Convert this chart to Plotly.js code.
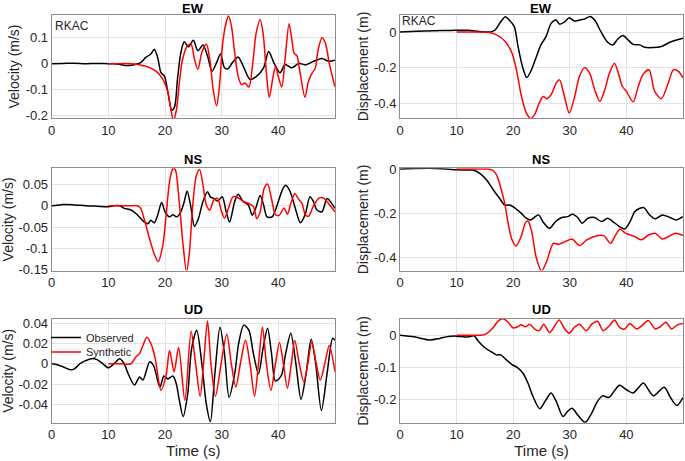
<!DOCTYPE html>
<html>
<head>
<meta charset="utf-8">
<script src="https://cdn.plot.ly/plotly-3.0.1.min.js"></script>
<style>html,body{margin:0;padding:0;background:#fff;}#chart{width:685px;height:461px;}</style>
</head>
<body>
<div id="chart"></div>
<script>
// ---------------- DATA ----------------
// EW velocity (m/s)
const ewVelObsT = [0,2,4,6,8,10,11,12,13,14,14.7,15.7,16.6,17.5,18.1,18.7,19.3,19.9,20.5,21.2,21.7,22.2,22.8,23.4,24.1,25.0,25.8,26.7,27.5,28.3,29.1,29.8,30.5,31.1,32.0,32.9,33.8,35.0,36.2,37.4,38.3,39.2,40.3,41.2,42.4,43.6,44.8,46.0,47.7,48.9,50];
const ewVelObs  = [0,0.001,0.002,0,0.001,0,0,-0.003,-0.007,-0.006,-0.003,0.004,0.024,0.037,0.056,0.024,-0.035,-0.048,-0.11,-0.18,-0.166,-0.06,0.043,0.085,0.065,0.09,0.05,0.072,0.03,-0.029,0.004,0.037,-0.016,-0.02,0.007,0.026,-0.009,-0.061,-0.048,-0.016,0.047,0.004,-0.035,-0.003,-0.016,0.001,-0.005,0.007,0.02,0.009,0.013];
const ewVelSynT = [10,12,14,15.2,16.9,18.4,19.6,20.5,21.1,21.5,22.0,22.6,23.1,24.0,24.6,25.2,25.8,26.5,27.3,27.9,28.5,29.1,29.6,30.2,30.8,31.2,31.7,32.3,32.9,33.5,34.1,34.8,35.5,36.1,36.8,37.3,37.9,38.4,39.0,39.5,40.0,40.6,41.2,41.9,42.4,42.8,43.3,43.8,44.7,45.3,46.0,46.5,47.0,47.7,48.3,49.0,50];
const ewVelSyn  = [0,0,0,-0.003,-0.012,-0.029,-0.06,-0.11,-0.186,-0.22,-0.18,-0.06,0.017,0.07,0.075,0.017,-0.022,0.043,0.076,0.017,-0.1,-0.163,-0.088,0.082,0.16,0.184,0.148,0.043,-0.048,-0.081,-0.075,-0.09,0.004,0.12,0.17,0.12,-0.035,-0.13,-0.06,-0.01,-0.05,-0.09,0.02,0.154,0.09,0.04,0.03,-0.03,-0.13,-0.07,-0.035,-0.02,0.05,0.1,0.08,0.0,-0.09];
// EW displacement (m)
const ewDisObsT = [0,3,6,9,12,14,16,16.8,17.6,18.6,19.3,20.2,20.8,21.7,22.4,23.1,24.0,24.9,25.8,26.7,27.6,28.2,29.1,29.9,30.8,31.7,32.6,33.6,34.4,35.5,36.7,37.6,38.5,39.4,40.3,41.2,42.4,43.2,44.7,46.2,47.7,50];
const ewDisObs  = [0,0.004,0.007,0.009,0.01,0.003,0,0.011,0.048,0.085,0.067,0.03,-0.072,-0.2,-0.254,-0.22,-0.146,-0.072,-0.026,0.048,0.067,0.044,0.057,0.08,0.061,0.067,0.072,0.087,0.067,0.002,-0.057,-0.072,-0.039,-0.02,-0.044,-0.069,-0.072,-0.085,-0.087,-0.081,-0.057,-0.035];
const ewDisSynT = [10,13,15.9,17.3,18.5,19.7,20.5,21.4,22.3,23.1,23.8,24.6,25.3,25.9,26.7,27.6,28.2,28.9,29.9,30.8,31.7,32.6,33.5,34.4,35.3,36.1,37.0,37.9,38.5,39.3,40.0,41.2,42.1,42.9,44.0,45.0,46.2,47.4,48.3,49.2,50];
const ewDisSyn  = [0,0,-0.004,-0.02,-0.05,-0.11,-0.2,-0.35,-0.45,-0.483,-0.46,-0.396,-0.36,-0.372,-0.35,-0.285,-0.267,-0.34,-0.452,-0.369,-0.248,-0.2,-0.23,-0.322,-0.387,-0.33,-0.23,-0.174,-0.22,-0.304,-0.331,-0.39,-0.304,-0.239,-0.211,-0.331,-0.372,-0.285,-0.211,-0.22,-0.257];
// NS velocity (m/s)
const nsVelObsT = [0,1,2,4,6,8,10,11,12,12.8,14.0,15.1,16.3,17.0,17.5,18.1,18.7,19.4,20.0,20.8,21.4,22.1,22.8,23.4,23.9,24.5,25.2,25.9,26.7,27.5,28.0,28.6,29.3,30.1,30.8,31.4,32.3,32.9,33.8,34.7,35.4,36.0,36.8,37.4,38.0,38.9,39.8,40.7,41.3,42.1,43.0,43.9,44.7,45.6,46.2,46.8,47.7,48.6,49.3,50];
const nsVelObs  = [0,0.001,0.003,0.002,0,-0.001,-0.002,0,0,-0.006,-0.01,-0.021,-0.038,-0.042,-0.034,-0.04,-0.022,0.008,-0.014,-0.026,-0.021,-0.026,-0.014,0.01,0.035,0.002,-0.048,-0.03,0.01,0.033,0.021,0.017,0.011,0.021,-0.014,-0.038,0.01,0.027,0.01,0.002,-0.022,-0.006,0.024,0.002,-0.026,-0.026,0.002,0.037,0.048,0.033,-0.006,-0.04,-0.022,0.021,0.01,-0.01,-0.014,0.017,0.008,-0.006];
const nsVelSynT = [10,12,14,15.1,15.7,16.3,17.2,18.1,18.8,19.6,20.2,20.8,21.4,21.8,22.4,23.2,23.8,24.3,24.9,25.5,26.1,26.7,27.3,27.9,28.6,29.3,29.9,30.5,31.2,32.0,32.9,33.8,34.7,35.6,36.2,36.8,37.5,38.1,38.9,39.5,40.2,41.0,41.6,42.2,42.9,43.6,44.2,44.8,45.4,46.2,47.2,48.0,48.9,50];
const nsVelSyn  = [0,0,0,0,-0.006,-0.03,-0.074,-0.113,-0.131,-0.094,-0.022,0.057,0.087,0.085,0.025,-0.094,-0.155,-0.11,0.002,0.069,0.085,0.049,0.002,-0.01,0.013,0.017,-0.01,-0.029,-0.006,0.021,0.019,0.01,0.006,-0.002,-0.03,-0.014,0.041,0.051,0.01,-0.021,-0.022,-0.005,-0.02,0.005,0.028,0.015,0.005,-0.022,-0.024,0.0,0.018,0.018,0.005,-0.014];
// NS displacement (m)
const nsDisObsT = [0,2.5,5,7.5,10,12,12.9,14.1,15.3,16.5,17.6,18.5,19.4,20.2,21.4,22.3,23.1,23.9,24.5,25.3,26.4,27.5,28.6,29.6,30.5,31.4,32.2,33.2,34.4,35.6,36.7,37.6,38.8,39.7,40.6,41.5,42.4,43.1,44.1,45.1,46.4,47.7,48.8,50];
const nsDisObs  = [0,0.002,0.003,0.001,-0.004,-0.005,-0.005,-0.02,-0.05,-0.095,-0.133,-0.163,-0.163,-0.175,-0.2,-0.223,-0.231,-0.216,-0.208,-0.241,-0.269,-0.238,-0.22,-0.216,-0.205,-0.22,-0.246,-0.223,-0.22,-0.238,-0.223,-0.238,-0.261,-0.272,-0.241,-0.193,-0.178,-0.175,-0.208,-0.226,-0.208,-0.22,-0.231,-0.216];
const nsDisSynT = [10,14,15.5,16.3,16.9,17.4,17.9,18.5,19.1,19.8,20.5,21.4,22.2,22.6,23.2,24.1,25.0,25.9,27.1,28.0,29.2,30.4,31.7,33.0,34.8,36.0,37.2,38.1,38.9,39.8,40.7,41.5,42.7,43.9,45.1,46.3,47.5,48.7,50];
const nsDisSyn  = [0,0,0,-0.005,-0.02,-0.05,-0.095,-0.155,-0.246,-0.322,-0.349,-0.306,-0.242,-0.236,-0.276,-0.404,-0.462,-0.42,-0.337,-0.341,-0.329,-0.317,-0.347,-0.321,-0.302,-0.302,-0.337,-0.299,-0.272,-0.291,-0.299,-0.306,-0.321,-0.299,-0.291,-0.317,-0.306,-0.291,-0.302];
// UD velocity (m/s)
const udVelObsT = [0,1,2,3.3,4,5,6,7,8,9,10,11,12,12.8,13.5,14.6,15.5,16.1,17.3,18.0,19.1,19.8,20.5,21.4,22.0,22.5,23.2,24.0,24.7,25.6,26.5,27.3,28.0,28.8,29.7,30.5,31.3,32.3,33.0,33.9,34.8,35.6,36.5,37.3,38.1,38.8,39.5,40.5,41.3,42.2,43.1,44.0,44.9,45.8,46.6,47.6,48.6,49.6,50];
const udVelObs  = [0,-0.001,-0.003,-0.006,-0.005,0,0.003,0.005,0.004,0,-0.004,0,0.005,0,-0.01,-0.021,-0.013,-0.016,0.002,-0.002,-0.023,-0.012,-0.015,-0.012,-0.02,-0.035,-0.052,-0.03,0.015,0.033,0.0,-0.04,-0.057,-0.01,0.036,0.01,-0.033,-0.01,0.02,0.038,0.033,0.01,-0.01,0.015,0.035,0.01,-0.017,-0.012,0.01,0.03,0.0,-0.035,-0.01,0.024,0.0,-0.046,-0.01,0.025,0.023];
const udVelSynT = [10,12,14,14.9,15.5,16.1,16.8,17.5,18.2,19.3,20.2,20.8,21.6,22.4,23.5,24.6,25.4,26.2,26.8,27.5,28.1,28.9,29.9,30.9,31.7,32.5,33.3,34.2,35.0,35.8,36.5,37.2,37.9,38.7,39.5,40.2,40.9,41.6,42.3,42.9,43.7,44.5,45.2,45.9,46.7,47.4,48.2,49.0,50];
const udVelSyn  = [0,0,0,0.007,0.01,0.018,0.026,0.02,0.007,-0.026,-0.011,0.013,-0.008,0.016,-0.036,0.032,0.0,-0.032,0.0,0.042,0.0,-0.032,0.0,0.029,0.0,-0.023,0.0,0.023,0.0,-0.032,0.0,0.036,0.0,-0.026,0.0,0.021,0.0,-0.024,0.0,0.023,0.0,-0.018,0.0,0.021,0.0,-0.016,0.0,0.018,-0.008];
// UD displacement (m)
const udDisObsT = [0,2.5,5.3,7,8.5,10,11.5,12.5,13.1,13.8,15.0,16.1,17.0,17.8,18.7,19.8,20.8,21.7,22.6,23.5,24.7,25.8,26.7,27.6,28.8,29.6,30.4,31.4,32.7,33.7,34.9,35.8,36.9,37.9,38.8,40.0,41.2,43.0,43.9,44.8,46.7,47.7,48.9,50];
const udDisObs  = [0,-0.005,-0.015,-0.01,-0.004,-0.003,-0.006,-0.004,-0.002,-0.018,-0.039,-0.051,-0.061,-0.061,-0.075,-0.091,-0.101,-0.117,-0.148,-0.19,-0.228,-0.2,-0.179,-0.205,-0.252,-0.236,-0.226,-0.247,-0.27,-0.247,-0.205,-0.188,-0.193,-0.172,-0.155,-0.169,-0.179,-0.148,-0.169,-0.188,-0.161,-0.19,-0.218,-0.193];
const udDisSynT = [10,13,14.4,15.3,16.4,17.3,18.2,19.1,20.0,20.8,21.4,22.2,22.9,23.8,24.6,25.4,26.4,27.0,28.1,29.1,29.9,30.8,31.7,32.9,33.9,34.9,35.9,37.0,37.9,38.8,39.7,40.6,41.8,42.7,43.9,45.1,46.0,47.0,48.0,49.0,50];
const udDisSyn  = [0,0,0,0.005,0.022,0.043,0.051,0.04,0.022,0.026,0.032,0.026,0.034,0.019,0.014,0.034,0.008,0.019,0.047,0.019,0.006,0.024,0.034,0.014,0.034,0.043,0.014,0.029,0.047,0.024,0.019,0.036,0.019,0.029,0.045,0.019,0.026,0.04,0.019,0.032,0.036];

// Labels / ticks
const panelTitles = ['EW','EW','NS','NS','UD','UD'];
const yTitles = ['Velocity (m/s)','Displacement (m)','Velocity (m/s)','Displacement (m)','Velocity (m/s)','Displacement (m)'];
const xTickVals = [0,10,20,30,40];
const xTickText = ['0','10','20','30','40'];
const yTickVals = [[-0.2,-0.1,0,0.1],[-0.4,-0.2,0],[-0.15,-0.1,-0.05,0,0.05],[-0.4,-0.2,0],[-0.04,-0.02,0,0.02,0.04],[-0.2,-0.1,0]];
const yTickText = [['-0.2','-0.1','0','0.1'],['-0.4','-0.2','0'],['-0.15','-0.1','-0.05','0','0.05'],['-0.4','-0.2','0'],['-0.04','-0.02','0','0.02','0.04'],['-0.2','-0.1','0']];
const seriesNames = ['Observed','Synthetic'];
const stationName = 'RKAC';
const xLabel = 'Time (s)';

// ---------------- LAYOUT / TRACES ----------------
const yRanges = [[-0.21,0.188],[-0.48,0.095],[-0.152,0.088],[-0.46,0.003],[-0.058,0.044],[-0.271,0.05]];
const colDomains = [[0.0755,0.489],[0.584,0.997]];
const rowDomains = [[0.744,0.9675],[0.4132,0.6349],[0.0831,0.308]];

const panels = [
  [ewVelObsT, ewVelObs, ewVelSynT, ewVelSyn],
  [ewDisObsT, ewDisObs, ewDisSynT, ewDisSyn],
  [nsVelObsT, nsVelObs, nsVelSynT, nsVelSyn],
  [nsDisObsT, nsDisObs, nsDisSynT, nsDisSyn],
  [udVelObsT, udVelObs, udVelSynT, udVelSyn],
  [udDisObsT, udDisObs, udDisSynT, udDisSyn]
];

const legendCommon = {x: 46/685, xanchor: 'left', yanchor: 'middle',
  bgcolor: 'rgba(255,255,255,0)', borderwidth: 0, font: {size: 11, color: '#262626'}};

const traces = [];
const layout = {
  width: 685, height: 461,
  margin: {l:0, r:0, t:0, b:0},
  paper_bgcolor: '#ffffff', plot_bgcolor: '#ffffff',
  font: {family: 'Liberation Sans, Arial, sans-serif', size: 12, color: '#262626'},
  showlegend: true,
  legend: Object.assign({}, legendCommon, {y: 1 - 337.5/461}),
  legend2: Object.assign({}, legendCommon, {y: 1 - 352/461}),
  annotations: []
};

panels.forEach((p, i) => {
  const n = i + 1;
  const xa = n === 1 ? 'x' : 'x' + n;
  const ya = n === 1 ? 'y' : 'y' + n;
  const col = i % 2, row = Math.floor(i / 2);
  traces.push({x: p[0], y: p[1], xaxis: xa, yaxis: ya, type: 'scatter', mode: 'lines',
               name: seriesNames[0], showlegend: i === 4, legend: 'legend',
               line: {color: '#000000', width: 1.5, shape: 'spline', smoothing: 0.8}});
  traces.push({x: p[2], y: p[3], xaxis: xa, yaxis: ya, type: 'scatter', mode: 'lines',
               name: seriesNames[1], showlegend: i === 4, legend: 'legend2',
               line: {color: '#ff0000', width: 1.5, shape: 'spline', smoothing: 0.8}});
  const axCommon = {showline: true, mirror: true, linecolor: '#8c8c8c', linewidth: 1,
                    showgrid: true, gridcolor: '#e3e3e3', gridwidth: 1, zeroline: false,
                    ticks: '', tickfont: {size: 13, color: '#262626'}, fixedrange: true};
  layout['xaxis' + (n === 1 ? '' : n)] = Object.assign({}, axCommon, {
    domain: colDomains[col], anchor: ya, range: [0, 50],
    tickmode: 'array', tickvals: xTickVals, ticktext: xTickText,
    title: row === 2 ? {text: xLabel, font: {size: 15, color: '#262626'}, standoff: 3} : {text: ''}
  });
  layout['yaxis' + (n === 1 ? '' : n)] = Object.assign({}, axCommon, {
    domain: rowDomains[row], anchor: xa, range: yRanges[i],
    tickmode: 'array', tickvals: yTickVals[i], ticktext: yTickText[i],
    title: {text: yTitles[i], font: {size: 14, color: '#262626'}, standoff: 2}
  });
  const rowTitleY = [8, 159, 309][row];
  layout.annotations.push({text: '<b>' + panelTitles[i] + '</b>', xref: 'paper', yref: 'paper',
    x: (colDomains[col][0] + colDomains[col][1]) / 2, y: 1 - rowTitleY / 461,
    xanchor: 'center', yanchor: 'middle', showarrow: false, font: {size: 13, color: '#000'}});
});

layout.annotations.push({text: stationName, xref: 'paper', yref: 'paper', x: 53/685, y: 1-26.5/461,
  xanchor: 'left', yanchor: 'middle', showarrow: false, font: {size: 12, color: '#262626'}});
layout.annotations.push({text: stationName, xref: 'paper', yref: 'paper', x: 400/685, y: 1-21/461,
  xanchor: 'left', yanchor: 'middle', showarrow: false, font: {size: 12, color: '#262626'}});

Plotly.newPlot('chart', traces, layout, {displayModeBar: false, staticPlot: true});
</script>
</body>
</html>
